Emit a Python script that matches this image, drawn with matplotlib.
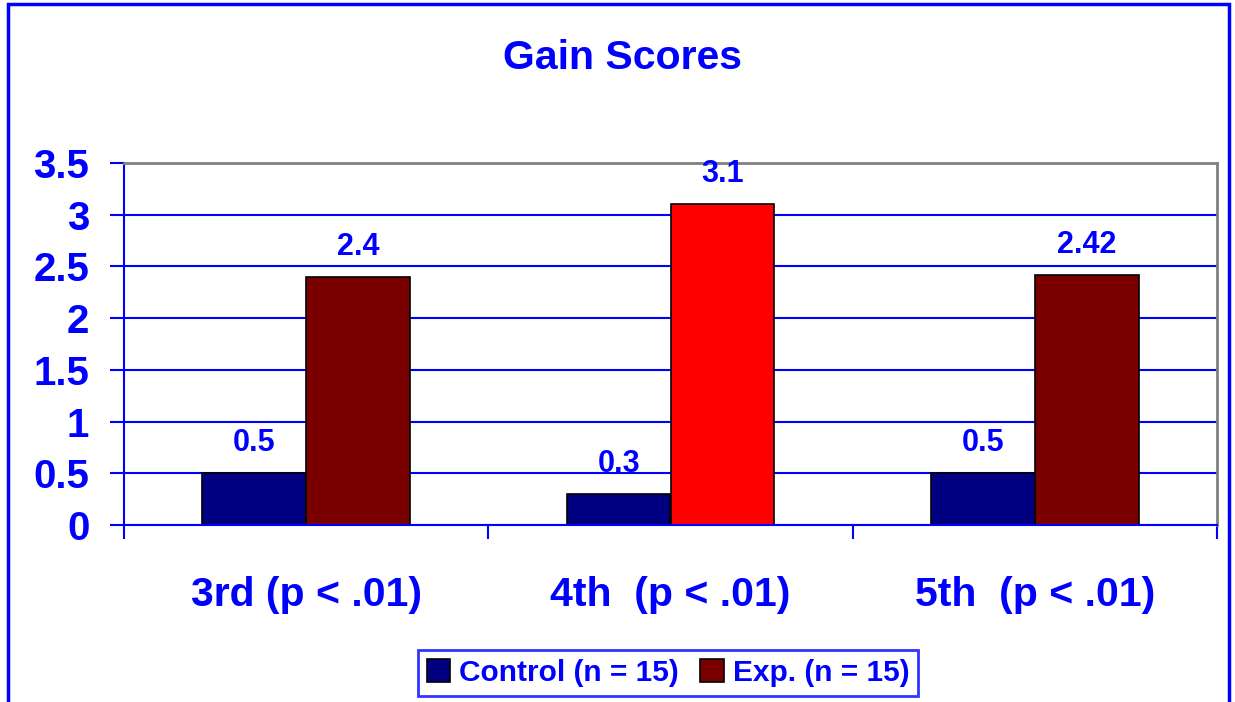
import matplotlib
matplotlib.use("Agg")
import matplotlib.pyplot as plt
from matplotlib.patches import Rectangle, Patch
import numpy as np

categories = ["3rd (p < .01)", "4th  (p < .01)", "5th  (p < .01)"]
control = [0.5, 0.3, 0.5]
exp_vals = [2.4, 3.1, 2.42]
exp_labels = ["2.4", "3.1", "2.42"]
control_labels = ["0.5", "0.3", "0.5"]
series_names = ["Control (n = 15)", "Exp. (n = 15)"]
yticks = [0, 0.5, 1, 1.5, 2, 2.5, 3, 3.5]
ytick_labels = ["0", "0.5", "1", "1.5", "2", "2.5", "3", "3.5"]

BLUE = "#0000FF"
NAVY = "#000080"
MAROON = "#7A0000"
RED = "#FF0000"
GRAY = "#808080"

plt.rcParams['font.family'] = ['Liberation Sans', 'DejaVu Sans']
plt.rcParams['font.weight'] = 'bold'

fig = plt.figure(figsize=(12.35, 7.02), dpi=100)
ax = fig.add_axes([124/1235, 1-525/702, (1217-124)/1235, (525-163)/702])

x = np.arange(len(categories))
w = 0.285
exp_colors = [MAROON, RED, MAROON]
ax.bar(x - w/2, control, w, color=NAVY, edgecolor="black", linewidth=1.2, zorder=3)
ax.bar(x + w/2, exp_vals, w, color=exp_colors, edgecolor="black", linewidth=1.2, zorder=3)

for xi, v, t in zip(x, control, control_labels):
    ax.annotate(t, (xi - w/2, v), xytext=(0, 30*0.72), textcoords="offset points",
                ha="center", va="center", color=BLUE, fontsize=22, fontweight="bold")
for xi, v, t in zip(x, exp_vals, exp_labels):
    ax.annotate(t, (xi + w/2, v), xytext=(0, 30*0.72), textcoords="offset points",
                ha="center", va="center", color=BLUE, fontsize=22, fontweight="bold")

ax.set_xlim(-0.5, 2.5)
ax.set_ylim(0, 3.5)
ax.set_yticks(yticks)
ax.set_yticklabels(ytick_labels, fontsize=29, color=BLUE, fontweight="bold")
ax.yaxis.grid(True, color=BLUE, linewidth=1.5, zorder=0)
ax.set_axisbelow(True)
ax.tick_params(axis="y", length=10, width=1.5, color=BLUE, pad=15)

ax.set_xticks(x)
ax.set_xticklabels(categories, fontsize=29.5, color=BLUE, fontweight="bold")
ax.set_xticks([-0.5, 0.5, 1.5, 2.5], minor=True)
ax.tick_params(axis="x", which="major", length=0, pad=37)
ax.tick_params(axis="x", which="minor", length=10, width=1.5, color=BLUE)

for s in ["left", "bottom"]:
    ax.spines[s].set_color(BLUE)
    ax.spines[s].set_linewidth(1.5)
for s in ["top", "right"]:
    ax.spines[s].set_color(GRAY)
    ax.spines[s].set_linewidth(2)
ax.spines["bottom"].set_zorder(4)

fig.text(622/1235, 1-58/702, "Gain Scores", ha="center", va="center",
         fontsize=29.5, color=BLUE, fontweight="bold")

handles = [Patch(facecolor=NAVY, edgecolor="black", linewidth=1.2),
           Patch(facecolor=MAROON, edgecolor="black", linewidth=1.2)]
leg = fig.legend(handles, series_names, loc="center", bbox_to_anchor=(668/1235, 1-673/702),
                 ncol=2, frameon=True, fancybox=False,
                 handlelength=0.8, handleheight=0.8, handletextpad=0.3, columnspacing=0.7,
                 borderpad=0.3, borderaxespad=0, prop={'weight': 'bold', 'size': 21.5})
leg.get_frame().set_edgecolor(BLUE)
leg.get_frame().set_linewidth(2)
for t in leg.get_texts():
    t.set_color(BLUE)

border = Rectangle((8/1235, -0.05), (1229-8)/1235, 1.05 - 4/702, transform=fig.transFigure,
                   fill=False, edgecolor=BLUE, linewidth=2.5, clip_on=False)
fig.patches.append(border)

fig.savefig("out.png", dpi=100)
